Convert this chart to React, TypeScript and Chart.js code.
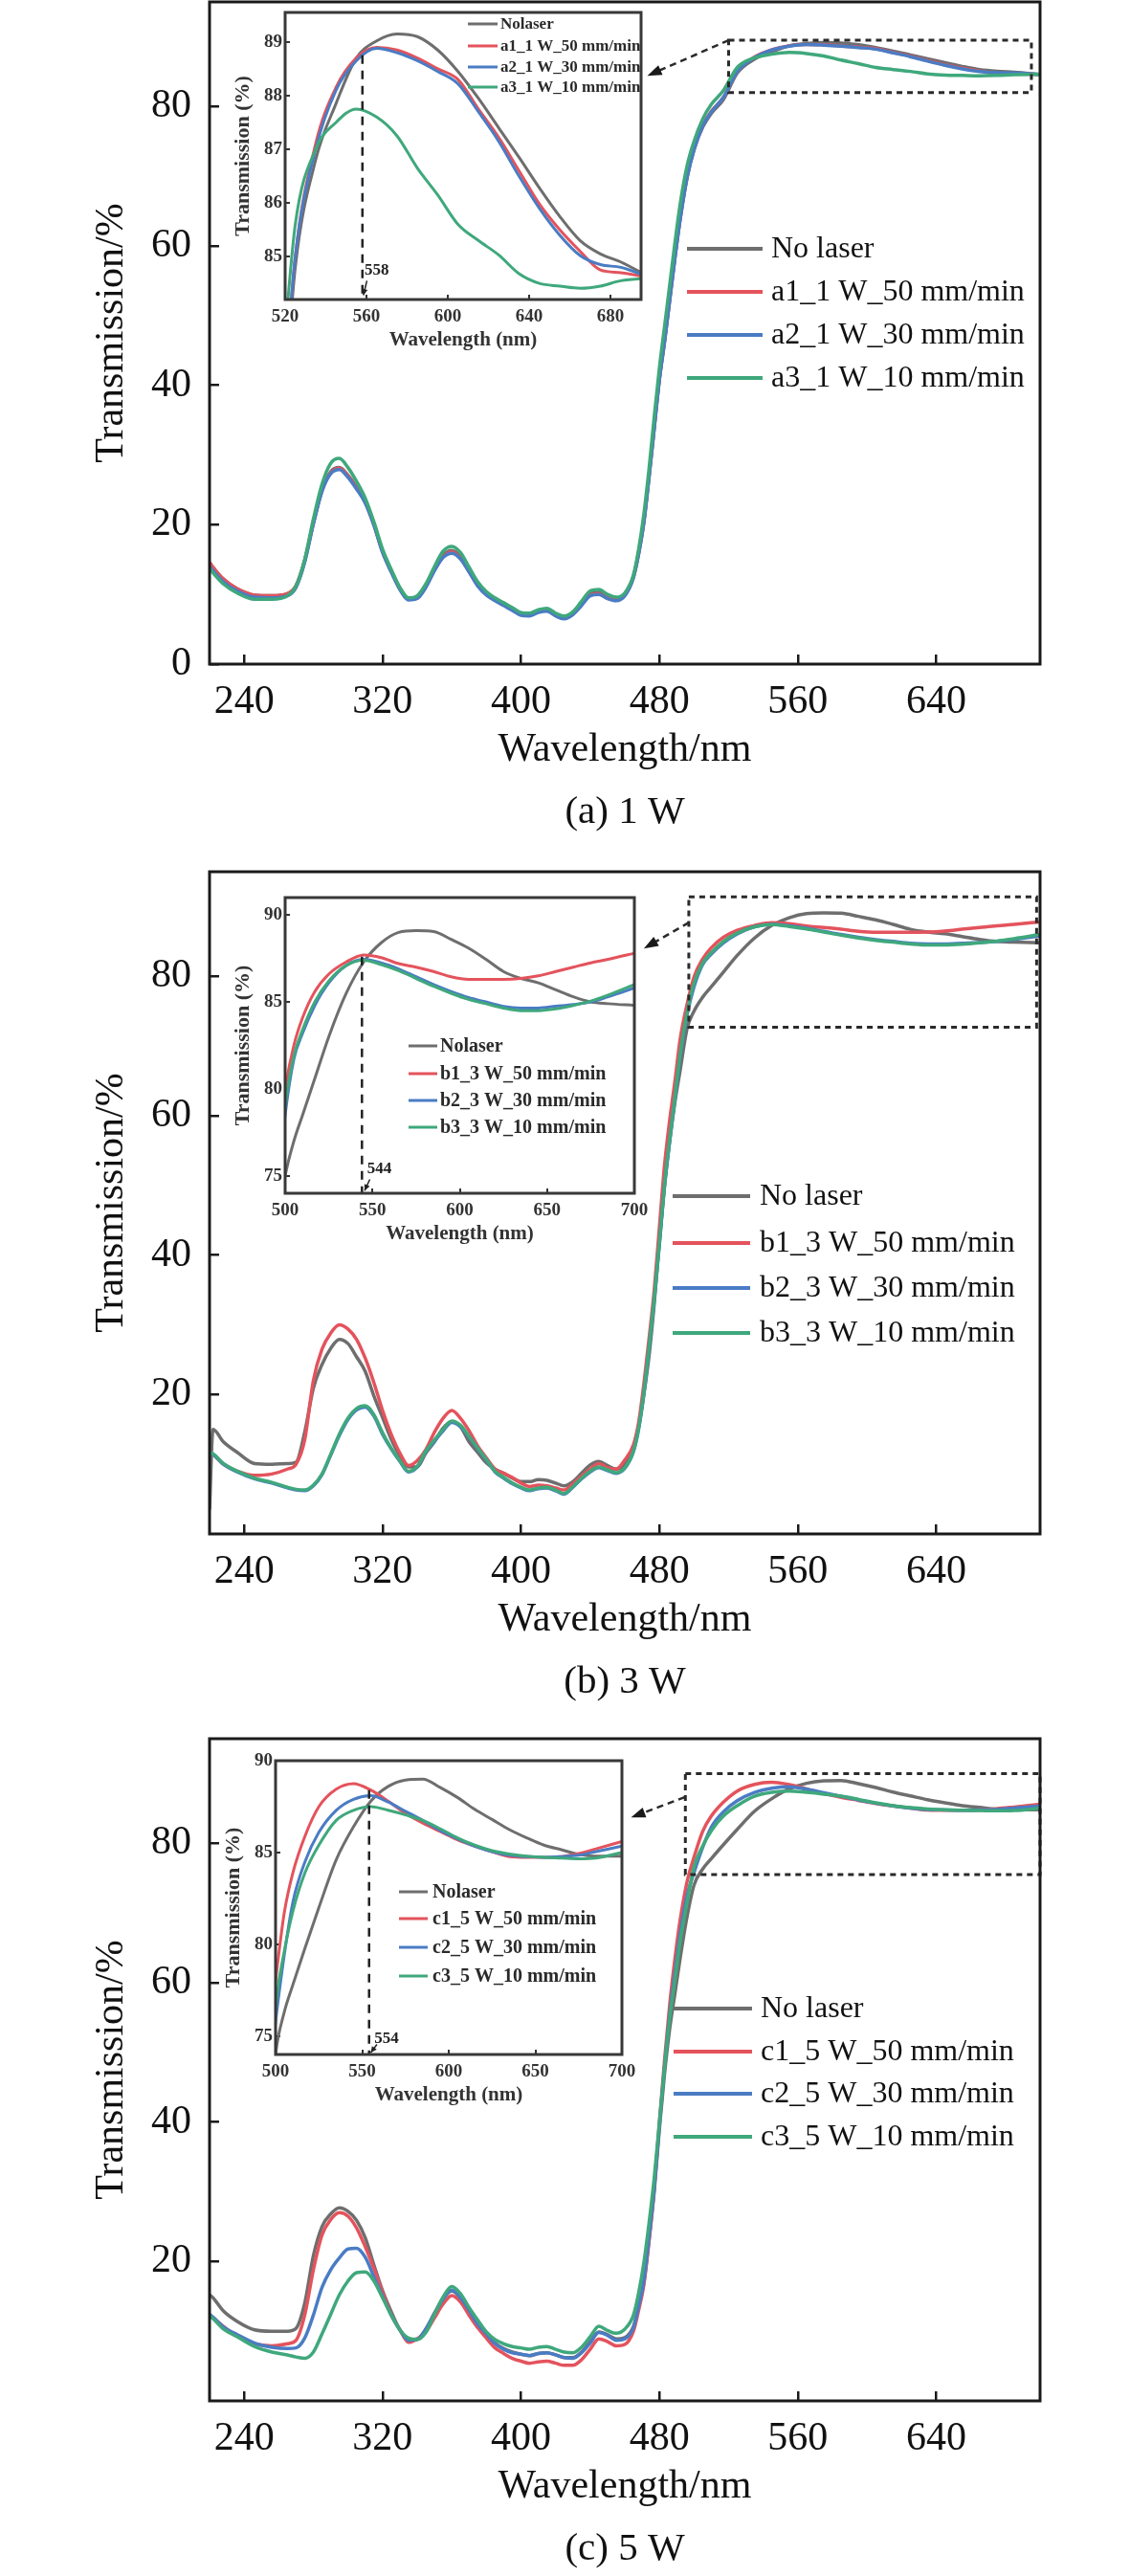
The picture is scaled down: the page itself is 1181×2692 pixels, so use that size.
import React, { useEffect, useRef } from "react";
import { Chart, registerables } from "chart.js";

Chart.register(...registerables);

const SERIF = '"Liberation Serif", "Times New Roman", serif';
Chart.defaults.font.family = SERIF;
Chart.defaults.color = "#111";

// wavelength grid (nm) shared by every curve
const WL = [
  220, 222, 228, 236, 246, 256, 265, 270, 275, 280,
  285, 290, 295, 300, 305, 310, 315, 320, 325, 330,
  335, 340, 345, 350, 355, 360, 365, 370, 375, 380,
  385, 390, 395, 400, 405, 410, 415, 420, 425, 430,
  435, 440, 445, 450, 455, 460, 465, 468, 471, 474,
  477, 480, 483, 486, 489, 492, 496, 500, 505, 510,
  517, 525, 535, 545, 555, 565, 575, 585, 595, 605,
  615, 625, 635, 645, 655, 665, 675, 685, 700,
];

// ---- (a) 1 W ----
const A_NOLASER = [
  14.6, 13.9, 12.2, 10.8, 9.9, 9.8, 10.1, 11.3, 14.9, 20.3,
  25.0, 27.6, 28.2, 27.1, 25.4, 23.3, 20.1, 16.2, 13.4, 10.9,
  9.4, 9.6, 11.2, 13.6, 15.6, 16.3, 15.4, 13.5, 11.5, 10.2,
  9.4, 8.7, 8.0, 7.3, 7.2, 7.7, 7.9, 7.2, 6.8, 7.4,
  8.7, 10.1, 10.3, 9.7, 9.4, 10.1, 12.6, 15.8, 20.3, 26.8,
  33.8, 40.8, 46.3, 52.3, 58.3, 63.8, 69.8, 73.8, 77.0, 79.0,
  81.0, 84.8, 86.8, 87.85, 88.7, 89.02, 89.15, 89.1, 88.85, 88.45,
  87.95, 87.4, 86.85, 86.28, 85.75, 85.3, 85.05, 84.9, 84.6,
];
const A_W1_50 = [
  14.6, 13.9, 12.2, 10.8, 9.9, 9.8, 10.1, 11.2, 14.8, 20.2,
  24.9, 27.4, 28.1, 27.0, 25.3, 23.2, 20.0, 16.1, 13.3, 10.8,
  9.3, 9.5, 11.1, 13.5, 15.4, 16.1, 15.2, 13.3, 11.3, 10.0,
  9.2, 8.5, 7.8, 7.1, 7.0, 7.5, 7.7, 7.0, 6.6, 7.2,
  8.5, 9.9, 10.1, 9.5, 9.2, 9.9, 12.5, 16.0, 20.5, 27.0,
  34.0, 41.0, 46.5, 52.5, 58.5, 64.0, 70.0, 74.0, 77.3, 79.3,
  81.3, 85.0, 87.1, 88.15, 88.7, 88.9, 88.85, 88.7, 88.5, 88.3,
  87.75, 87.22, 86.6, 85.98, 85.5, 85.1, 84.75, 84.7, 84.6,
];
const A_W1_30 = [
  14.0, 13.4, 11.8, 10.5, 9.6, 9.5, 9.8, 11.0, 14.6, 20.1,
  24.8, 27.3, 27.9, 26.8, 25.1, 23.1, 19.9, 16.0, 13.2, 10.7,
  9.2, 9.4, 11.0, 13.4, 15.3, 15.9, 15.1, 13.2, 11.2, 9.9,
  9.1, 8.4, 7.7, 7.0, 6.9, 7.4, 7.6, 6.9, 6.5, 7.1,
  8.4, 9.8, 10.0, 9.4, 9.1, 9.8, 12.4, 15.8, 20.3, 26.8,
  33.8, 40.8, 46.3, 52.3, 58.3, 63.8, 69.8, 73.8, 77.2, 79.2,
  81.3, 85.0, 87.0, 88.1, 88.65, 88.88, 88.8, 88.65, 88.45, 88.22,
  87.7, 87.15, 86.5, 85.9, 85.4, 85.02, 84.85, 84.8, 84.6,
];
const A_W1_10 = [
  13.7, 13.1, 11.5, 10.2, 9.3, 9.3, 9.8, 11.2, 15.0, 20.8,
  25.8, 28.8, 29.5, 28.2, 26.2, 23.8, 20.4, 16.5, 13.6, 11.0,
  9.5, 9.8, 11.5, 14.0, 16.2, 16.9, 16.0, 13.9, 11.8, 10.4,
  9.5, 8.8, 8.1, 7.4, 7.3, 7.8, 8.0, 7.3, 6.9, 7.5,
  9.0, 10.5, 10.7, 10.0, 9.6, 10.2, 12.8, 16.5, 21.5, 28.0,
  35.5, 42.5, 48.5, 54.5, 60.5, 66.0, 71.5, 75.0, 78.2, 80.3,
  82.3, 85.6, 87.0, 87.5, 87.75, 87.6, 87.25, 86.65, 86.15, 85.6,
  85.3, 85.03, 84.68, 84.5, 84.45, 84.41, 84.45, 84.55, 84.6,
];

// ---- (b) 3 W ----
const B_NOLASER = [
  3.5, 15.0, 13.2, 11.7, 10.1, 10.0, 10.1, 10.3, 14.6, 20.9,
  24.3, 26.6, 27.9, 27.3, 25.4, 23.3, 19.8, 16.7, 13.6, 11.2,
  9.6, 9.6, 11.6, 13.2, 15.2, 16.1, 15.4, 13.2, 11.7, 10.2,
  9.3, 8.7, 8.0, 7.5, 7.5, 7.8, 7.7, 7.3, 6.9, 7.5,
  8.7, 9.9, 10.4, 9.8, 9.3, 10.0, 12.5, 15.5, 20.0, 25.5,
  33.0, 42.0, 50.0, 56.5, 62.0, 66.5, 72.5, 75.0, 77.0, 78.5,
  80.6, 83.0, 85.5, 87.3, 88.4, 89.0, 89.1, 89.05, 88.6, 88.1,
  87.45, 86.75, 86.35, 86.1, 85.7, 85.3, 85.0, 84.9, 84.8,
];
const B_W3_50 = [
  11.6, 11.4, 10.0, 9.0, 8.4, 8.6, 9.3, 10.0, 13.5, 22.0,
  26.5, 28.8, 30.0, 29.4, 27.9, 25.2, 21.7, 17.7, 14.3, 11.6,
  9.8, 10.5, 12.1, 14.6, 16.6, 17.7, 16.6, 14.8, 12.6, 10.9,
  9.3, 8.7, 8.1, 7.3, 6.8, 7.0, 6.9, 6.6, 6.3, 7.2,
  8.3, 9.3, 10.1, 9.5, 9.3, 10.6, 12.8, 16.0, 21.5, 28.0,
  35.0, 44.0, 53.0, 59.5, 65.0, 71.0, 76.0, 79.9, 82.5, 84.1,
  85.6, 86.6, 87.3, 87.7, 87.55, 87.2, 87.0, 86.75, 86.45, 86.3,
  86.3, 86.3, 86.35, 86.5, 86.75, 87.0, 87.25, 87.45, 87.8,
];
const B_W3_30 = [
  11.6, 11.4, 10.0, 8.9, 7.9, 7.3, 6.6, 6.3, 6.2, 6.9,
  8.5, 11.3, 14.1, 16.4, 17.8, 18.2, 16.9, 14.3, 12.2, 10.4,
  8.9, 9.6, 11.8, 13.3, 14.8, 16.0, 15.4, 13.9, 12.2, 10.6,
  8.9, 8.0, 7.2, 6.6, 6.2, 6.5, 6.6, 6.2, 5.7, 6.7,
  7.9, 8.9, 9.5, 9.1, 8.7, 9.4, 11.8, 15.0, 20.0, 26.5,
  33.5, 41.5, 50.0, 56.5, 62.5, 68.5, 74.5, 78.5, 81.7, 83.2,
  84.8, 86.1, 87.1, 87.45, 87.25, 86.9, 86.45, 86.0, 85.6, 85.25,
  85.0, 84.75, 84.65, 84.65, 84.75, 84.85, 85.0, 85.3, 85.8,
];
const B_W3_10 = [
  11.7, 11.5, 10.1, 9.0, 8.0, 7.4, 6.7, 6.4, 6.3, 7.0,
  8.6, 11.4, 14.3, 16.6, 18.0, 18.4, 17.1, 14.5, 12.3, 10.5,
  9.0, 9.7, 11.9, 13.5, 15.0, 16.2, 15.6, 14.0, 12.3, 10.7,
  9.0, 8.1, 7.3, 6.7, 6.3, 6.6, 6.7, 6.3, 5.8, 6.8,
  8.0, 9.0, 9.6, 9.2, 8.8, 9.5, 11.9, 15.2, 20.3, 26.8,
  33.8, 41.8, 50.3, 56.8, 62.8, 68.8, 74.8, 79.0, 81.9, 83.4,
  85.0, 86.2, 87.1, 87.4, 87.15, 86.8, 86.35, 85.9, 85.5, 85.15,
  84.9, 84.65, 84.5, 84.5, 84.6, 84.8, 85.05, 85.4, 86.0,
];

// ---- (c) 5 W ----
const C_NOLASER = [
  15.2, 14.8, 12.9, 11.4, 10.2, 10.0, 10.0, 10.4, 14.0, 20.8,
  25.0, 26.8, 27.7, 27.2, 25.9, 23.4, 19.5, 15.8, 12.8, 10.2,
  8.8, 8.9, 10.3, 12.6, 14.7, 15.8, 14.8, 12.9, 11.0, 9.6,
  8.3, 7.5, 7.0, 6.7, 6.5, 6.8, 6.9, 6.6, 6.2, 6.2,
  7.0, 8.5, 9.9, 9.5, 8.9, 9.1, 10.7, 13.5, 17.0, 23.0,
  30.0, 39.0, 47.0, 53.5, 58.5, 63.5, 69.5, 74.0, 76.3, 77.8,
  79.8, 82.0, 84.6, 86.4, 87.8, 88.6, 88.95, 89.0, 88.55, 88.0,
  87.35, 86.8, 86.25, 85.8, 85.4, 85.15, 84.9, 84.8, 84.8,
];
const C_W5_50 = [
  12.4, 12.0, 10.7, 9.3, 8.2, 7.9, 8.2, 8.7, 12.3, 18.8,
  23.8, 26.0, 27.0, 26.5, 24.8, 22.1, 19.0, 15.6, 12.4, 10.2,
  8.4, 8.9, 9.9, 11.9, 13.9, 15.1, 14.2, 12.3, 10.5, 9.0,
  7.6, 6.8, 6.1, 5.7, 5.4, 5.6, 5.7, 5.4, 5.1, 5.1,
  5.9, 7.4, 8.9, 8.5, 7.9, 8.1, 10.0, 13.0, 16.6, 23.0,
  30.5, 39.9, 49.0, 57.0, 63.5, 69.0, 74.5, 78.0, 81.7, 83.9,
  85.9, 87.5, 88.45, 88.75, 88.4, 87.8, 87.13, 86.6, 86.15, 85.7,
  85.35, 85.05, 84.78, 84.74, 84.74, 84.78, 84.95, 85.2, 85.6,
];
const C_W5_30 = [
  12.4, 12.0, 10.6, 9.5, 8.3, 7.7, 7.5, 7.6, 9.0, 12.3,
  16.3, 18.8, 20.5, 21.8, 21.9, 20.6, 17.8, 15.0, 12.3, 10.2,
  8.7, 8.8, 10.3, 12.5, 14.6, 15.9, 14.8, 13.0, 11.0, 9.6,
  8.2, 7.4, 6.9, 6.7, 6.5, 6.8, 6.9, 6.6, 6.2, 6.1,
  6.9, 8.3, 9.8, 9.4, 8.7, 8.9, 10.5, 13.6, 17.2, 23.5,
  30.5, 39.5, 48.0, 55.5, 61.5, 67.0, 72.5, 75.8, 79.4, 82.3,
  84.5, 86.1, 87.3, 87.9, 88.1, 87.75, 87.25, 86.75, 86.2, 85.75,
  85.35, 85.05, 84.85, 84.78, 84.74, 84.78, 84.85, 85.05, 85.35,
];
const C_W5_10 = [
  12.2, 11.8, 10.3, 9.2, 7.8, 7.0, 6.6, 6.3, 6.1, 7.0,
  9.6, 12.4, 15.2, 17.2, 18.4, 18.5, 17.2, 14.8, 12.3, 10.2,
  9.0, 8.8, 9.8, 12.4, 14.9, 16.4, 15.4, 13.4, 11.6, 9.9,
  8.8, 8.2, 7.8, 7.6, 7.4, 7.7, 7.8, 7.4, 7.0, 6.9,
  7.7, 9.2, 10.7, 10.1, 9.7, 10.3, 12.3, 15.5, 19.8, 25.5,
  32.0, 40.0, 48.0, 55.0, 60.5, 66.0, 71.5, 76.6, 79.6, 81.8,
  83.9, 85.4, 86.75, 87.3, 87.5, 87.3, 87.05, 86.75, 86.3, 85.8,
  85.4, 85.1, 84.92, 84.8, 84.74, 84.7, 84.66, 84.7, 85.0,
];

// labels
const A_LABELS = ["No laser", "a1_1 W_50 mm/min", "a2_1 W_30 mm/min", "a3_1 W_10 mm/min"];
const B_LABELS = ["No laser", "b1_3 W_50 mm/min", "b2_3 W_30 mm/min", "b3_3 W_10 mm/min"];
const C_LABELS = ["No laser", "c1_5 W_50 mm/min", "c2_5 W_30 mm/min", "c3_5 W_10 mm/min"];
const A_INSET_LABELS = ["Nolaser", "a1_1 W_50 mm/min", "a2_1 W_30 mm/min", "a3_1 W_10 mm/min"];
const B_INSET_LABELS = ["Nolaser", "b1_3 W_50 mm/min", "b2_3 W_30 mm/min", "b3_3 W_10 mm/min"];
const C_INSET_LABELS = ["Nolaser", "c1_5 W_50 mm/min", "c2_5 W_30 mm/min", "c3_5 W_10 mm/min"];

// ticks
const MAIN_X_RANGE = [220, 700];
const MAIN_Y_RANGE = [0, 95];
const MAIN_X_TICKS = [240, 320, 400, 480, 560, 640];
const MAIN_Y_TICKS_A = [0, 20, 40, 60, 80];
const MAIN_Y_TICKS_BC = [20, 40, 60, 80];

const INSET_A_X = [520, 695];
const INSET_A_Y = [84.2, 89.55];
const INSET_A_XTICKS = [520, 560, 600, 640, 680];
const INSET_A_YTICKS = [85, 86, 87, 88, 89];
const INSET_B_X = [500, 700];
const INSET_B_Y = [74, 91];
const INSET_C_X = [500, 700];
const INSET_C_Y = [74, 90];
const INSET_BC_XTICKS = [500, 550, 600, 650, 700];
const INSET_BC_YTICKS = [75, 80, 85, 90];

// zoom boxes [x0, x1, y0, y1] and arrows [fromX, fromY, toX, toY] in main data units
const BOX_A = [520, 695, 82, 89.5];
const BOX_B = [497, 698, 72.7, 91.4];
const BOX_C = [495, 700, 75.5, 90];
const ARROW_A = [520, 89.5, 473, 84.4];
const ARROW_B = [497, 87.7, 471, 84.0];
const ARROW_C = [494.6, 86.6, 463.6, 83.7];

// peak markers in the insets
const MARK_A = 558;
const MARK_B = 544;
const MARK_C = 554;
const MARK_TOP = [88.75, 87.6, 88.4];

const COLORS = ["#6e6e6e", "#e4535c", "#4a7cc4", "#3fa87c"];

// geometry
const CANVAS_W = 1181;
const CANVAS_H = 875;
const PLOT_LEFT = 219;
const PLOT_RIGHT = 1087;
const PLOT_TOP = 2;
const X_AXIS_H = 130.4;
const INSET_YW = 75;
const INSET_PT = 12;
const INSET_PR = 24;
const INSET_XH = 62;

const toPoints = (vals: number[]) => WL.map((x, i) => ({ x, y: vals[i] }));

const fixedTicks = (vals: number[]) => (s: any) => {
  s.ticks = vals.map((v) => ({ value: v }));
};

const mainDecor = {
  id: "mainDecor",
  afterDatasetsDraw(chart: any, _args: any, o: any) {
    const { ctx, chartArea: a } = chart;
    const x = chart.scales.x;
    const y = chart.scales.y;
    ctx.save();
    // dashed zoom box
    const bx0 = x.getPixelForValue(o.box[0]);
    const bx1 = x.getPixelForValue(o.box[1]);
    const by0 = y.getPixelForValue(o.box[3]);
    const by1 = y.getPixelForValue(o.box[2]);
    ctx.setLineDash([6, 5]);
    ctx.lineWidth = 3;
    ctx.strokeStyle = "#2a2a2a";
    ctx.strokeRect(bx0, by0, bx1 - bx0, by1 - by0);
    // dashed arrow towards the inset
    const ax0 = x.getPixelForValue(o.arrow[0]);
    const ay0 = y.getPixelForValue(o.arrow[1]);
    const ax1 = x.getPixelForValue(o.arrow[2]);
    const ay1 = y.getPixelForValue(o.arrow[3]);
    const ang = Math.atan2(ay1 - ay0, ax1 - ax0);
    const head = 16;
    ctx.setLineDash([7, 5]);
    ctx.lineWidth = 2.5;
    ctx.beginPath();
    ctx.moveTo(ax0, ay0);
    ctx.lineTo(ax1 - head * 0.8 * Math.cos(ang), ay1 - head * 0.8 * Math.sin(ang));
    ctx.stroke();
    ctx.setLineDash([]);
    ctx.fillStyle = "#1a1a1a";
    ctx.beginPath();
    ctx.moveTo(ax1, ay1);
    ctx.lineTo(ax1 - head * Math.cos(ang - 0.35), ay1 - head * Math.sin(ang - 0.35));
    ctx.lineTo(ax1 - head * Math.cos(ang + 0.35), ay1 - head * Math.sin(ang + 0.35));
    ctx.closePath();
    ctx.fill();
    // frame
    ctx.lineWidth = 3;
    ctx.strokeStyle = "#1a1a1a";
    ctx.strokeRect(a.left, a.top, a.right - a.left, a.bottom - a.top);
    // legend
    ctx.font = `32px ${SERIF}`;
    ctx.textBaseline = "middle";
    ctx.textAlign = "left";
    chart.data.datasets.forEach((ds: any, i: number) => {
      const yy = a.top + o.legend.rows[i];
      ctx.strokeStyle = ds.borderColor;
      ctx.lineWidth = 4;
      ctx.beginPath();
      ctx.moveTo(o.legend.x0, yy);
      ctx.lineTo(o.legend.x1, yy);
      ctx.stroke();
      ctx.fillStyle = "#111";
      ctx.fillText(ds.label, o.legend.tx, yy + 1);
    });
    ctx.restore();
  },
};

const insetDecor = {
  id: "insetDecor",
  afterDatasetsDraw(chart: any, _args: any, o: any) {
    const { ctx, chartArea: a } = chart;
    const x = chart.scales.x;
    const y = chart.scales.y;
    ctx.save();
    // dashed peak marker
    const mx = x.getPixelForValue(o.mark);
    ctx.setLineDash([9, 7]);
    ctx.lineWidth = 2.5;
    ctx.strokeStyle = "#222";
    ctx.beginPath();
    ctx.moveTo(mx, y.getPixelForValue(o.markTop));
    ctx.lineTo(mx, a.bottom);
    ctx.stroke();
    ctx.setLineDash([]);
    ctx.font = `bold 17px ${SERIF}`;
    ctx.fillStyle = "#222";
    ctx.textBaseline = "middle";
    ctx.textAlign = "left";
    ctx.fillText(String(o.mark), x.getPixelForValue(o.markLabel[0]), y.getPixelForValue(o.markLabel[1]));
    const p0x = x.getPixelForValue(o.markArrow[0]);
    const p0y = y.getPixelForValue(o.markArrow[1]);
    const p1x = x.getPixelForValue(o.markArrow[2]);
    const p1y = y.getPixelForValue(o.markArrow[3]);
    const ang = Math.atan2(p1y - p0y, p1x - p0x);
    ctx.lineWidth = 1.5;
    ctx.beginPath();
    ctx.moveTo(p0x, p0y);
    ctx.lineTo(p1x, p1y);
    ctx.stroke();
    ctx.beginPath();
    ctx.moveTo(p1x, p1y);
    ctx.lineTo(p1x - 7 * Math.cos(ang - 0.45), p1y - 7 * Math.sin(ang - 0.45));
    ctx.lineTo(p1x - 7 * Math.cos(ang + 0.45), p1y - 7 * Math.sin(ang + 0.45));
    ctx.closePath();
    ctx.fill();
    // legend, clipped by the inset frame
    ctx.beginPath();
    ctx.rect(a.left, a.top, a.right - a.left, a.bottom - a.top);
    ctx.clip();
    ctx.font = `bold ${o.legend.size}px ${SERIF}`;
    chart.data.datasets.forEach((ds: any, i: number) => {
      const yy = a.top + o.legend.rows[i];
      ctx.strokeStyle = ds.borderColor;
      ctx.lineWidth = 3;
      ctx.beginPath();
      ctx.moveTo(a.left + o.legend.x0, yy);
      ctx.lineTo(a.left + o.legend.x1, yy);
      ctx.stroke();
      ctx.fillStyle = "#2a2a2a";
      ctx.fillText(o.labels[i], a.left + o.legend.tx, yy + 1);
    });
    ctx.restore();
    ctx.save();
    ctx.lineWidth = 3;
    ctx.strokeStyle = "#383838";
    ctx.strokeRect(a.left, a.top, a.right - a.left, a.bottom - a.top);
    ctx.restore();
  },
};

const PANELS = [
  {
    key: "a",
    top: 0,
    caption: "(a) 1 W",
    series: [A_NOLASER, A_W1_50, A_W1_30, A_W1_10],
    labels: A_LABELS,
    insetLabels: A_INSET_LABELS,
    yTicks: MAIN_Y_TICKS_A,
    box: BOX_A,
    arrow: ARROW_A,
    legend: { x0: 718, x1: 797, tx: 806, rows: [258, 303, 348, 393] },
    inset: {
      box: { left: 298, top: 13, right: 670, bottom: 313 },
      x: INSET_A_X,
      y: INSET_A_Y,
      xTicks: INSET_A_XTICKS,
      yTicks: INSET_A_YTICKS,
      mark: MARK_A,
      markTop: MARK_TOP[0],
      markLabel: [559, 84.75],
      markArrow: [560.2, 84.55, 558.5, 84.28],
      legend: { x0: 191, x1: 222, tx: 225, rows: [12, 35, 57, 78], size: 17 },
    },
  },
  {
    key: "b",
    top: 909,
    caption: "(b) 3 W",
    series: [B_NOLASER, B_W3_50, B_W3_30, B_W3_10],
    labels: B_LABELS,
    insetLabels: B_INSET_LABELS,
    yTicks: MAIN_Y_TICKS_BC,
    box: BOX_B,
    arrow: ARROW_B,
    legend: { x0: 703, x1: 784, tx: 794, rows: [339, 388, 435, 482] },
    inset: {
      box: { left: 298, top: 29, right: 663, bottom: 338 },
      x: INSET_B_X,
      y: INSET_B_Y,
      xTicks: INSET_BC_XTICKS,
      yTicks: INSET_BC_YTICKS,
      mark: MARK_B,
      markTop: MARK_TOP[1],
      markLabel: [547, 75.4],
      markArrow: [548.5, 74.8, 545.5, 74.15],
      legend: { x0: 129, x1: 159, tx: 162, rows: [155, 184, 212, 240], size: 20 },
    },
  },
  {
    key: "c",
    top: 1815,
    caption: "(c) 5 W",
    series: [C_NOLASER, C_W5_50, C_W5_30, C_W5_10],
    labels: C_LABELS,
    insetLabels: C_INSET_LABELS,
    yTicks: MAIN_Y_TICKS_BC,
    box: BOX_C,
    arrow: ARROW_C,
    legend: { x0: 704, x1: 786, tx: 795, rows: [282, 327, 371, 416] },
    inset: {
      box: { left: 288, top: 25, right: 650, bottom: 332 },
      x: INSET_C_X,
      y: INSET_C_Y,
      xTicks: INSET_BC_XTICKS,
      yTicks: INSET_BC_YTICKS,
      mark: MARK_C,
      markTop: MARK_TOP[2],
      markLabel: [557, 74.85],
      markArrow: [558.5, 74.55, 555, 74.1],
      legend: { x0: 129, x1: 159, tx: 164, rows: [137, 165, 195, 225], size: 20 },
    },
  },
];

type PanelSpec = (typeof PANELS)[number];

const makeDatasets = (p: PanelSpec, width: number) =>
  p.series.map((vals, i) => ({
    label: p.labels[i],
    data: toPoints(vals),
    borderColor: COLORS[i],
    borderWidth: width,
    pointRadius: 0,
    fill: false,
    cubicInterpolationMode: "monotone" as const,
    order: p.series.length - 1 - i,
  }));

function mainConfig(p: PanelSpec): any {
  return {
    type: "line",
    data: { datasets: makeDatasets(p, 3.5) },
    plugins: [mainDecor],
    options: {
      responsive: true,
      maintainAspectRatio: false,
      animation: false,
      events: [],
      layout: {
        autoPadding: false,
        padding: { left: 0, right: CANVAS_W - PLOT_RIGHT, top: PLOT_TOP, bottom: 0 },
      },
      plugins: {
        legend: { display: false },
        tooltip: { enabled: false },
        title: {
          display: true,
          text: p.caption,
          position: "bottom",
          fullSize: false,
          color: "#111",
          font: { size: 41, weight: "normal", lineHeight: 1.2 },
          padding: { top: 0, bottom: 1.4 },
        },
        mainDecor: { box: p.box, arrow: p.arrow, legend: p.legend },
      },
      scales: {
        x: {
          type: "linear",
          min: MAIN_X_RANGE[0],
          max: MAIN_X_RANGE[1],
          afterBuildTicks: fixedTicks(MAIN_X_TICKS),
          afterFit: (s: any) => {
            s.height = X_AXIS_H;
            s.paddingLeft = 0;
            s.paddingRight = 0;
          },
          grid: { drawOnChartArea: false, drawTicks: true, tickLength: -10, color: "#1a1a1a", lineWidth: 2.5 },
          border: { display: false },
          ticks: { color: "#111", font: { size: 42 }, padding: 24.8, maxRotation: 0, autoSkip: false },
          title: {
            display: true,
            text: "Wavelength/nm",
            color: "#111",
            font: { size: 42 },
            padding: { top: 0, bottom: 15.2 },
          },
        },
        y: {
          type: "linear",
          min: MAIN_Y_RANGE[0],
          max: MAIN_Y_RANGE[1],
          afterBuildTicks: fixedTicks(p.yTicks),
          afterFit: (s: any) => {
            s.width = PLOT_LEFT;
            s.paddingTop = 0;
            s.paddingBottom = 0;
          },
          grid: { drawOnChartArea: false, drawTicks: true, tickLength: -10, color: "#1a1a1a", lineWidth: 2.5 },
          border: { display: false },
          ticks: { color: "#111", font: { size: 42 }, padding: 29 },
          title: {
            display: true,
            text: "Transmission/%",
            color: "#111",
            font: { size: 42 },
            padding: { top: 92, bottom: 0 },
          },
        },
      },
    },
  };
}

function insetConfig(p: PanelSpec): any {
  const ins = p.inset;
  return {
    type: "line",
    data: { datasets: makeDatasets(p, 3) },
    plugins: [insetDecor],
    options: {
      responsive: true,
      maintainAspectRatio: false,
      animation: false,
      events: [],
      layout: {
        autoPadding: false,
        padding: { left: 0, right: INSET_PR, top: INSET_PT, bottom: 0 },
      },
      plugins: {
        legend: { display: false },
        tooltip: { enabled: false },
        insetDecor: {
          mark: ins.mark,
          markTop: ins.markTop,
          markLabel: ins.markLabel,
          markArrow: ins.markArrow,
          legend: ins.legend,
          labels: p.insetLabels,
        },
      },
      scales: {
        x: {
          type: "linear",
          min: ins.x[0],
          max: ins.x[1],
          afterBuildTicks: fixedTicks(ins.xTicks),
          afterFit: (s: any) => {
            s.height = INSET_XH;
            s.paddingLeft = 0;
            s.paddingRight = 0;
          },
          grid: { drawOnChartArea: false, drawTicks: true, tickLength: -5, color: "#333", lineWidth: 2 },
          border: { display: false },
          ticks: { color: "#333", font: { size: 19, weight: "bold" }, padding: 12, maxRotation: 0, autoSkip: false },
          title: {
            display: true,
            text: "Wavelength (nm)",
            color: "#333",
            font: { size: 21, weight: "bold" },
            padding: { top: 0, bottom: 6.4 },
          },
        },
        y: {
          type: "linear",
          min: ins.y[0],
          max: ins.y[1],
          afterBuildTicks: fixedTicks(ins.yTicks),
          afterFit: (s: any) => {
            s.width = INSET_YW;
            s.paddingTop = 0;
            s.paddingBottom = 0;
          },
          grid: { drawOnChartArea: false, drawTicks: true, tickLength: -5, color: "#333", lineWidth: 2 },
          border: { display: false },
          ticks: { color: "#333", font: { size: 19, weight: "bold" }, padding: 8 },
          title: {
            display: true,
            text: "Transmission (%)",
            color: "#333",
            font: { size: 22, weight: "bold" },
            padding: { top: 17.8, bottom: 0 },
          },
        },
      },
    },
  };
}

function Panel({ p }: { p: PanelSpec }) {
  const mainRef = useRef<HTMLCanvasElement | null>(null);
  const insetRef = useRef<HTMLCanvasElement | null>(null);

  useEffect(() => {
    if (!mainRef.current || !insetRef.current) return;
    const main = new Chart(mainRef.current, mainConfig(p));
    const inset = new Chart(insetRef.current, insetConfig(p));
    return () => {
      main.destroy();
      inset.destroy();
    };
  }, [p]);

  const b = p.inset.box;
  return (
    <div style={{ position: "absolute", left: 0, top: p.top, width: CANVAS_W, height: CANVAS_H }}>
      <div style={{ position: "absolute", left: 0, top: 0, width: CANVAS_W, height: CANVAS_H }}>
        <canvas ref={mainRef} />
      </div>
      <div
        style={{
          position: "absolute",
          left: b.left - INSET_YW,
          top: b.top - INSET_PT,
          width: b.right - b.left + INSET_YW + INSET_PR,
          height: b.bottom - b.top + INSET_PT + INSET_XH,
        }}
      >
        <canvas ref={insetRef} />
      </div>
    </div>
  );
}

export default function App() {
  return (
    <div
      style={{
        position: "absolute",
        left: 0,
        top: 0,
        width: 1181,
        height: 2692,
        background: "#fff",
        overflow: "hidden",
      }}
    >
      {PANELS.map((p) => (
        <Panel key={p.key} p={p} />
      ))}
    </div>
  );
}
